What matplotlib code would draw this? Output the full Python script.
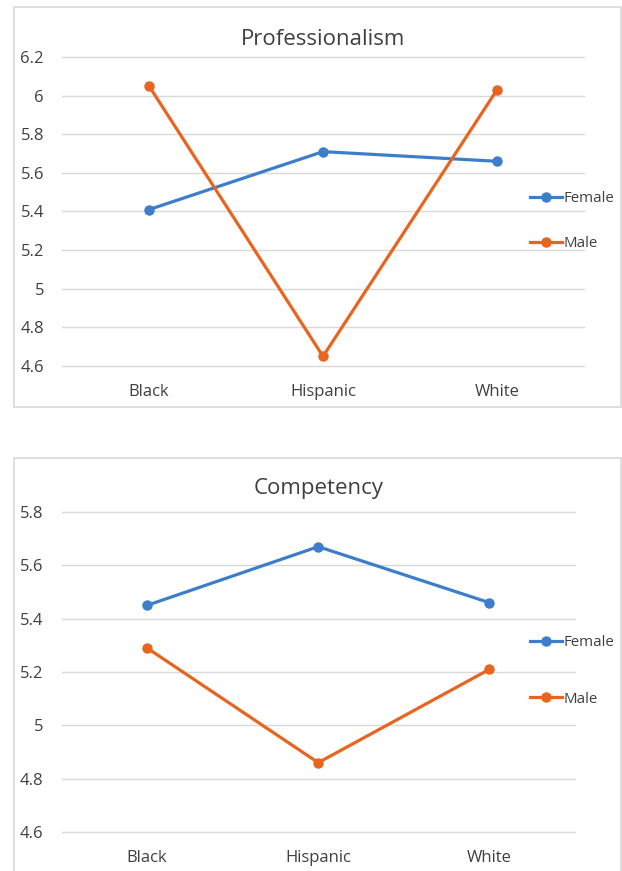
import matplotlib
matplotlib.use('Agg')
import matplotlib.pyplot as plt
from matplotlib.patches import Rectangle

plt.rcParams['font.family'] = ['Open Sans', 'DejaVu Sans']

groups = ['Black', 'Hispanic', 'White']

prof_female = [5.41, 5.71, 5.66]
prof_male = [6.05, 4.65, 6.03]
prof_ticks = [4.6, 4.8, 5, 5.2, 5.4, 5.6, 5.8, 6, 6.2]

comp_female = [5.45, 5.67, 5.46]
comp_male = [5.29, 4.86, 5.21]
comp_ticks = [4.6, 4.8, 5, 5.2, 5.4, 5.6, 5.8]

blue = '#3d7ecb'
orange = '#e8641f'
grid_col = '#d9d9d9'
text_col = '#404040'

fig = plt.figure(figsize=(6.22, 8.71), dpi=100)

# chart frames
W, H = 622, 871
for x0, y0, x1, y1 in [(14, 7, 621, 407), (14, 458, 621, 880)]:
    fig.patches.append(Rectangle((x0 / W, 1 - y1 / H), (x1 - x0) / W, (y1 - y0) / H,
                                 transform=fig.transFigure, fill=False,
                                 edgecolor=grid_col, lw=1.2))

ax1 = fig.add_axes([62 / W, 1 - 366 / H, 522 / W, 309 / H])
ax2 = fig.add_axes([61.5 / W, 1 - 832 / H, 513.5 / W, 320 / H])


def draw(ax, title, female, male, ticks, leg_y, leg_x, spacing, title_pad):
    x = list(range(len(groups)))
    ax.plot(x, female, color=blue, lw=2.3, marker='o', ms=6.5, label='Female')
    ax.plot(x, male, color=orange, lw=2.3, marker='o', ms=6.5, label='Male')
    ax.set_xlim(-0.5, len(groups) - 0.5)
    ax.set_ylim(ticks[0], ticks[-1])
    ax.set_yticks(ticks)
    ax.set_yticklabels([f'{t:g}' for t in ticks])
    ax.set_xticks(x)
    ax.set_xticklabels(groups)
    ax.tick_params(length=0, labelsize=12, colors=text_col)
    ax.tick_params(axis='y', pad=13)
    ax.tick_params(axis='x', pad=13)
    ax.grid(axis='y', color=grid_col, lw=1)
    for g in ax.get_ygridlines():
        g.set_clip_on(False)
    ax.set_axisbelow(True)
    for s in ax.spines.values():
        s.set_visible(False)
    ax.set_title(title, fontsize=16, color=text_col, pad=title_pad)
    ax.legend(loc='center left', bbox_to_anchor=(leg_x, leg_y), frameon=False,
              fontsize=10.8, handlelength=2.1, handletextpad=0.1,
              labelspacing=spacing, borderpad=0, borderaxespad=0,
              labelcolor=text_col)


draw(ax1, 'Professionalism', prof_female, prof_male, prof_ticks, 0.468, 0.897, 2.0, 8.5)
draw(ax2, 'Competency', comp_female, comp_male, comp_ticks, 0.503, 0.913, 2.75, 13)

fig.savefig('out.png', dpi=100)
